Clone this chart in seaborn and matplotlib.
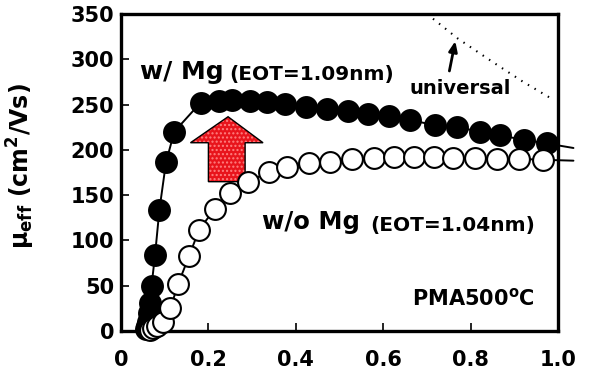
import numpy as np
import pandas as pd
import matplotlib
matplotlib.use("Agg")
import matplotlib.pyplot as plt
from matplotlib.patches import Polygon
import seaborn as sns

# ---- data ----
mg_x = [0.058, 0.060, 0.062, 0.064, 0.066, 0.070, 0.078, 0.088, 0.103, 0.122,
        0.182, 0.225, 0.253, 0.295, 0.335, 0.375, 0.423, 0.471, 0.519, 0.566,
        0.613, 0.661, 0.719, 0.768, 0.822, 0.867, 0.921, 0.974]
mg_y = [2, 5, 10, 20, 31, 50, 84, 134, 186, 220,
        252, 254, 255, 254, 253, 251, 247, 245, 243, 240,
        237, 233, 227, 225, 220, 216, 211, 207]
nomg_x = [0.066, 0.074, 0.082, 0.097, 0.113, 0.131, 0.156, 0.179, 0.215, 0.249,
          0.290, 0.338, 0.379, 0.429, 0.478, 0.528, 0.578, 0.625, 0.670, 0.715,
          0.760, 0.810, 0.860, 0.910, 0.965]
nomg_y = [1, 3, 5, 10, 25, 52, 83, 112, 135, 152,
          165, 175, 181, 185, 187, 190, 191, 192, 192, 192,
          191, 191, 190, 190, 189]
# fitted lines continue slightly past the right axis
mg_ext_x, mg_ext_y = [1.035], [202]
nomg_ext_x, nomg_ext_y = [1.035], [188]
univ_x = [0.70, 0.77, 0.85, 0.92, 0.99]
univ_y = [350, 323, 297, 275, 255]
xticks = [0, 0.2, 0.4, 0.6, 0.8, 1.0]
xtick_labels = ["0", "0.2", "0.4", "0.6", "0.8", "1.0"]
yticks = [0, 50, 100, 150, 200, 250, 300, 350]

sns.set_style("ticks")
plt.rcParams["font.family"] = ["DejaVu Sans"]
plt.rcParams["font.weight"] = "bold"
plt.rcParams["mathtext.fontset"] = "dejavusans"
plt.rcParams["mathtext.default"] = "bf"
for k in ["text.color", "axes.labelcolor", "xtick.color", "ytick.color",
          "axes.edgecolor", "xtick.labelcolor", "ytick.labelcolor"]:
    plt.rcParams[k] = "black"

fig = plt.figure(figsize=(5.9, 3.76), dpi=100)
ax = fig.add_axes([0.205, 0.1197, 0.741, 0.8433])

df_mg_line = pd.DataFrame({"x": mg_x + mg_ext_x, "y": mg_y + mg_ext_y})
df_no_line = pd.DataFrame({"x": nomg_x + nomg_ext_x, "y": nomg_y + nomg_ext_y})
sns.lineplot(data=df_mg_line, x="x", y="y", ax=ax, color="black", lw=1.4,
             sort=False, estimator=None, zorder=2)
sns.lineplot(data=df_no_line, x="x", y="y", ax=ax, color="black", lw=1.4,
             sort=False, estimator=None, zorder=2)
for ln in ax.get_lines():
    ln.set_clip_on(False)

sns.scatterplot(x=mg_x, y=mg_y, ax=ax, s=225, color="black", edgecolor="black",
                linewidth=1.5, zorder=3, clip_on=False)
sns.scatterplot(x=nomg_x, y=nomg_y, ax=ax, s=225, color="white", edgecolor="black",
                linewidth=1.5, zorder=4, clip_on=False)

# universal mobility (dotted)
ax.plot(univ_x, univ_y, color="black", lw=1.5, ls=(0, (0.7, 3.0)), zorder=2)
ax.annotate("", xy=(0.766, 323), xytext=(0.750, 284),
            arrowprops=dict(arrowstyle="-|>,head_length=0.6,head_width=0.25",
                            color="black", lw=2))
ax.text(0.776, 268, "universal", fontsize=14, fontweight="bold", ha="center", va="center")

# red block arrow
arrow_pts = [(0.200, 164.8), (0.200, 207.8), (0.159, 207.8), (0.245, 236.5),
             (0.325, 207.8), (0.284, 207.8), (0.284, 164.8)]
ax.add_patch(Polygon(arrow_pts, closed=True, facecolor="#e8141c", edgecolor="none",
                     zorder=1))
ax.add_patch(Polygon(arrow_pts, closed=True, facecolor="none", edgecolor="#ff8080",
                     hatch="....", lw=0, zorder=1))
ax.add_patch(Polygon(arrow_pts, closed=True, facecolor="none", edgecolor="black",
                     lw=1.0, zorder=1))

ax.text(0.043, 286, "w/ Mg", fontsize=18, fontweight="bold", ha="left", va="center")
ax.text(0.247, 283, "(EOT=1.09nm)", fontsize=14.5, fontweight="bold", ha="left", va="center")
ax.text(0.323, 120, "w/o Mg", fontsize=17.5, fontweight="bold", ha="left", va="center")
ax.text(0.570, 116, "(EOT=1.04nm)", fontsize=14.5, fontweight="bold", ha="left", va="center")
ax.text(0.666, 36, "PMA500$^{\\mathbf{o}}$C", fontsize=15, fontweight="bold",
        ha="left", va="center")

ax.set_xlim(0, 1.0)
ax.set_ylim(0, 350)
ax.set_xticks(xticks)
ax.set_xticklabels(xtick_labels)
ax.set_yticks(yticks)
ax.tick_params(direction="in", length=6, width=1.2, labelsize=15, colors="black")
ax.tick_params(axis="x", pad=14)
ax.tick_params(axis="y", pad=5)
for lab in ax.get_xticklabels() + ax.get_yticklabels():
    lab.set_fontweight("bold")
for sp in ax.spines.values():
    sp.set_linewidth(2.4)
    sp.set_color("black")
ax.set_xlabel("")
ax.set_ylabel("μ$_{\\mathbf{eff}}$ (cm$^{\\mathbf{2}}$/Vs)", fontsize=17, fontweight="bold",
              color="black")
ax.yaxis.set_label_coords(-0.192, 0.52)
fig.savefig("out.png", dpi=100)
